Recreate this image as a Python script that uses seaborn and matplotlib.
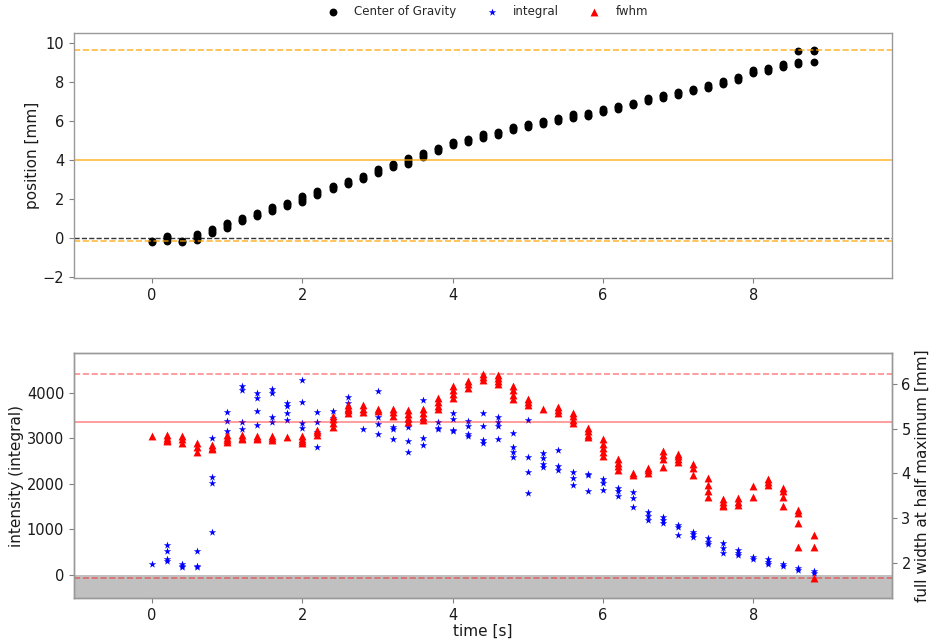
import matplotlib
matplotlib.use("Agg")
import matplotlib.pyplot as plt
import seaborn as sns
import pandas as pd

# time steps [s]
times = [0.0, 0.2, 0.4, 0.6, 0.8, 1.0, 1.2, 1.4, 1.6, 1.8,
         2.0, 2.2, 2.4, 2.6, 2.8, 3.0, 3.2, 3.4, 3.6, 3.8,
         4.0, 4.2, 4.4, 4.6, 4.8, 5.0, 5.2, 5.4, 5.6, 5.8,
         6.0, 6.2, 6.4, 6.6, 6.8, 7.0, 7.2, 7.4, 7.6, 7.8,
         8.0, 8.2, 8.4, 8.6, 8.8]

# center of gravity [mm], several measurements per time step
cog = [[-0.22, -0.15], [-0.15, -0.05, 0.05, 0.12], [-0.18, -0.13],
       [-0.12, -0.02, 0.1, 0.2], [0.28, 0.36, 0.44], [0.5, 0.6, 0.7, 0.78],
       [0.85, 0.95, 1.05], [1.12, 1.2, 1.3], [1.38, 1.48, 1.58],
       [1.65, 1.73, 1.8], [1.85, 1.95, 2.05, 2.15], [2.22, 2.32, 2.42],
       [2.52, 2.6, 2.68], [2.76, 2.84, 2.92], [3.02, 3.1, 3.2],
       [3.35, 3.45, 3.55], [3.65, 3.74, 3.82], [3.8, 3.9, 4.0, 4.1],
       [4.18, 4.26, 4.34], [4.45, 4.55, 4.62], [4.75, 4.85, 4.95],
       [4.95, 5.03, 5.1], [5.15, 5.25, 5.32], [5.3, 5.38, 5.45],
       [5.55, 5.62, 5.7], [5.72, 5.8, 5.86], [5.86, 5.93, 6.0],
       [6.02, 6.09, 6.15], [6.18, 6.26, 6.34], [6.24, 6.32, 6.42],
       [6.46, 6.53, 6.6], [6.62, 6.7, 6.78], [6.8, 6.87, 6.94],
       [7.04, 7.11, 7.18], [7.2, 7.28, 7.36], [7.34, 7.42, 7.5],
       [7.52, 7.59, 7.66], [7.68, 7.76, 7.84], [7.88, 7.97, 8.06],
       [8.1, 8.19, 8.28], [8.46, 8.53, 8.6], [8.58, 8.65, 8.72],
       [8.76, 8.84, 8.92], [8.95, 9.05, 9.6], [9.04, 9.58, 9.66]]

# intensity (integral)
integral = [[248], [658, 533, 340, 310], [230, 200, 170], [533, 190, 170],
            [2997, 2156, 2025, 936], [3582, 3385, 3165], [4152, 4050, 3348, 3202],
            [3998, 3874, 3603, 3289], [4072, 3984, 3472, 3362], [3765, 3706, 3560, 3399],
            [4276, 3801, 3326, 3216], [3582, 3362, 3129, 2800], [3603, 3450, 3400],
            [3910, 3779, 3545], [3560, 3195], [4035, 3458, 3304, 3092],
            [3252, 3202, 2982], [3326, 3252, 2945, 2690], [3838, 3399, 2997, 2851],
            [3362, 3216, 3195], [3545, 3420, 3180, 3158], [3377, 3267, 3092, 3048],
            [3560, 3275, 2960, 2887], [3458, 3362, 3275, 2975], [3107, 2800, 2705, 2581],
            [3399, 2581, 2266, 1805], [2668, 2559, 2434, 2361], [2741, 2380, 2300],
            [2266, 2120, 1974], [2215, 2200, 1849], [2098, 2025, 1864],
            [1900, 1849, 1732], [1827, 1681, 1498], [1389, 1294, 1206],
            [1279, 1206, 1133], [1096, 1045, 877], [950, 899, 840],
            [804, 731, 680], [694, 585, 475], [548, 475, 438],
            [402, 344], [344, 292, 241], [241, 197], [146, 110], [95, 51]]

# full width at half maximum [mm]
fwhm = [[4.84], [4.85, 4.8, 4.75, 4.72], [4.83, 4.76, 4.68], [4.69, 4.6, 4.49],
        [4.64, 4.58, 4.54], [4.86, 4.8, 4.74, 4.71], [4.86, 4.8, 4.76], [4.84, 4.8, 4.76],
        [4.84, 4.79, 4.75], [4.82], [4.83, 4.76, 4.72, 4.68], [4.98, 4.92, 4.86],
        [5.29, 5.21, 5.13, 5.05], [5.54, 5.47, 5.41, 5.36], [5.53, 5.45, 5.38],
        [5.44, 5.39], [5.44, 5.37, 5.29], [5.42, 5.33, 5.24, 5.16],
        [5.45, 5.36, 5.27, 5.19], [5.69, 5.61, 5.52, 5.44], [5.95, 5.86, 5.77, 5.69],
        [6.08, 6.0, 5.91], [6.23, 6.16, 6.1], [6.21, 6.14, 6.07, 6.01],
        [5.96, 5.86, 5.76, 5.66], [5.66, 5.6, 5.54], [5.45], [5.48, 5.42, 5.36],
        [5.35, 5.28, 5.2, 5.13], [5.01, 4.94, 4.87, 4.81], [4.77, 4.67, 4.58, 4.49, 4.39],
        [4.32, 4.24, 4.16, 4.08], [4.02, 3.97], [4.12, 4.07, 4.02],
        [4.51, 4.42, 4.33, 4.15], [4.44, 4.38, 4.32, 4.26], [4.21, 4.13, 3.97],
        [3.89, 3.75, 3.61, 3.47], [3.42, 3.36, 3.3, 3.26], [3.44, 3.36, 3.29],
        [3.72, 3.47], [3.87, 3.8, 3.74], [3.67, 3.6, 3.48, 3.26],
        [3.18, 3.12, 2.9, 2.36], [2.61, 2.36, 1.65]]

# reference lines
pos_lines = [9.65, 4.0, -0.17]
fwhm_lines = [6.22, 5.15, 1.66]


def long_form(values):
    rows = []
    for t, vals in zip(times, values):
        for v in vals:
            rows.append({"time": t, "value": v})
    return pd.DataFrame(rows)


df_cog = long_form(cog)
df_int = long_form(integral)
df_fwhm = long_form(fwhm)

sns.set_style("ticks")
plt.rcParams["font.family"] = ["DejaVu Sans"]
plt.rcParams["xtick.color"] = "0.5"
plt.rcParams["ytick.color"] = "0.5"
plt.rcParams["xtick.labelcolor"] = "0.1"
plt.rcParams["ytick.labelcolor"] = "0.1"
plt.rcParams["axes.labelcolor"] = "0.1"

fig = plt.figure(figsize=(9.41, 6.41), dpi=100)
ax1 = fig.add_axes([0.0786, 0.5663, 0.869, 0.3817])
ax2 = fig.add_axes([0.0786, 0.0671, 0.869, 0.3817])
ax3 = ax2.twinx()

# top panel: position
sns.scatterplot(data=df_cog, x="time", y="value", ax=ax1, color="black",
                marker="o", s=32, linewidth=0, label="Center of Gravity")
ax1.axhline(pos_lines[0], color="orange", ls="--", lw=1.2, alpha=0.75)
ax1.axhline(pos_lines[1], color="orange", ls="-", lw=1.2, alpha=0.75)
ax1.axhline(0, color="black", ls="--", lw=1.0, alpha=0.8)
ax1.axhline(pos_lines[2], color="orange", ls="--", lw=1.2, alpha=0.75)
ax1.set_xlim(-1.04, 9.84)
ax1.set_ylim(-2.05, 10.5)
ax1.set_yticks([-2, 0, 2, 4, 6, 8, 10])
ax1.set_xticks([0, 2, 4, 6, 8])
ax1.set_xlabel("")
ax1.set_ylabel("position [mm]", fontsize=11, labelpad=2)

# bottom panel: integral (left) and fwhm (right)
ax2.axhspan(-520, 0, color="silver", lw=0)
sns.scatterplot(data=df_int, x="time", y="value", ax=ax2, color="blue",
                marker="*", s=32, linewidth=0, label="integral")
ax2.set_xlim(-1.04, 9.84)
ax2.set_ylim(-505, 4860)
ax2.set_yticks([0, 1000, 2000, 3000, 4000])
ax2.set_xticks([0, 2, 4, 6, 8])
ax2.set_xlabel("time [s]", fontsize=11, labelpad=1)
ax2.set_ylabel("intensity (integral)", fontsize=11, labelpad=2)

sns.scatterplot(data=df_fwhm, x="time", y="value", ax=ax3, color="red",
                marker="^", s=32, linewidth=0, label="fwhm")
ax3.axhline(fwhm_lines[0], color="red", ls="--", lw=1.2, alpha=0.45)
ax3.axhline(fwhm_lines[1], color="red", ls="-", lw=1.2, alpha=0.45)
ax3.axhline(fwhm_lines[2], color="red", ls="--", lw=1.2, alpha=0.45)
ax3.set_ylim(1.21, 6.69)
ax3.set_yticks([2, 3, 4, 5, 6])
ax3.set_ylabel("full width at half maximum [mm]", fontsize=11, labelpad=3)

handles, labels = [], []
for ax in (ax1, ax2, ax3):
    h, l = ax.get_legend_handles_labels()
    handles += h
    labels += l
    if ax.get_legend() is not None:
        ax.get_legend().remove()

for ax in (ax1, ax2, ax3):
    ax.tick_params(labelsize=10.5)
    for sp in ax.spines.values():
        sp.set_visible(True)
        sp.set_color("0.6")
        sp.set_linewidth(1.0)

fig.legend(handles, labels, loc="upper center", bbox_to_anchor=(0.515, 1.008),
           ncol=3, frameon=False, fontsize=8.5)

fig.savefig("out.png", dpi=100)
